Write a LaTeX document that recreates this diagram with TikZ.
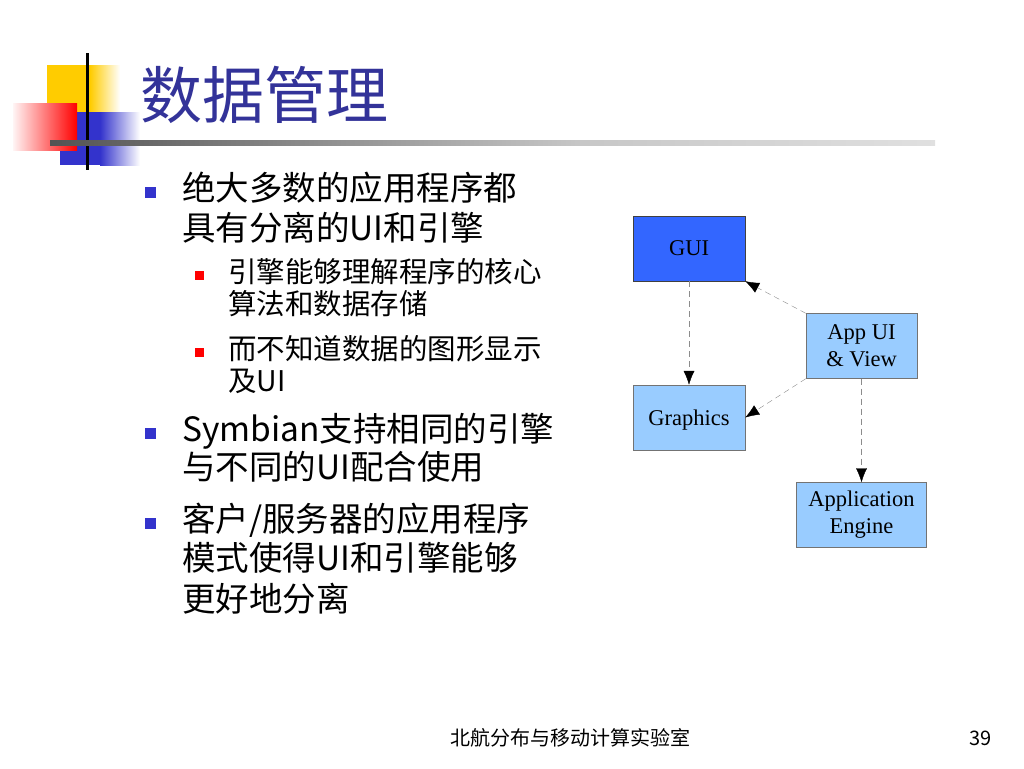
\documentclass[tikz,border=0pt]{standalone}
\usepackage{fontspec}
\setmainfont{Noto Sans CJK SC}
\newfontfamily\boxfont{Liberation Serif}
\usetikzlibrary{arrows.meta, positioning}

\definecolor{titleblue}{HTML}{333399}
\definecolor{bulletblue}{HTML}{3333CC}
\definecolor{guiblue}{HTML}{3366FF}
\definecolor{paleblue}{HTML}{99CCFF}
\definecolor{logoyellow}{HTML}{FFCC00}
\pgfdeclarehorizontalshading{ruleshade}{100bp}{color(0bp)=(black); color(20bp)=(black!75); color(55bp)=(black!22); color(100bp)=(white)}

\begin{document}
\begin{tikzpicture}[
    x=1pt, y=-1pt,
    node distance=169pt,
    on grid,
    title/.style={anchor=base west, inner sep=0, text=titleblue, font=\fontsize{62}{62}\selectfont},
    mainline/.style={anchor=base west, inner sep=0, font=\fontsize{33.5}{40}\selectfont},
    subline/.style={anchor=base west, inner sep=0, font=\fontsize{28.5}{32}\selectfont},
    mainbullet/.style={fill=bulletblue, minimum size=11pt, inner sep=0},
    subbullet/.style={fill=red, minimum size=9pt, inner sep=0},
    footer/.style={anchor=base west, inner sep=0, font=\fontsize{20}{20}\selectfont},
    block/.style={draw=black!55, fill=paleblue, minimum width=112pt, minimum height=65pt,
                  inner sep=2pt, align=center, font=\boxfont\fontsize{22.5}{27}\selectfont},
    dep/.style={draw=black!45, dash pattern=on 6pt off 4pt, -{Latex[color=black, length=14pt, width=11pt]}},
]

    \useasboundingbox[fill=white] (0,0) rectangle (1024,768);

    % logo
    \fill[logoyellow] (47,65) rectangle (90,112);
    \shade[left color=logoyellow, right color=white] (90,65) rectangle (120,112);
    \fill[bulletblue] (60,112) rectangle (100,165);
    \shade[left color=bulletblue, right color=white] (100,112) rectangle (140,165);
    \shade[left color=red!4, right color=red] (13,103) rectangle (77,150);
    \fill[black] (85.5,53) rectangle (89,170);
    \shade[shading=ruleshade] (50,140.5) rectangle (935,145.5);

    % title
    \node[title] (T) at (140,118) {数据管理};

    % bullets
    \node[mainbullet] (B1) at (150,192) {};
    \node[mainline]   (L1) at (182,200) {绝大多数的应用程序都};
    \node[mainline]   (L2) at (182,240) {具有分离的UI和引擎};

    \node[subbullet]  (S1) at (199.5,275) {};
    \node[subline]    (L3) at (228,282) {引擎能够理解程序的核心};
    \node[subline]    (L4) at (228,314) {算法和数据存储};

    \node[subbullet]  (S2) at (199.5,352) {};
    \node[subline]    (L5) at (228,359) {而不知道数据的图形显示};
    \node[subline]    (L6) at (228,391) {及UI};

    \node[mainbullet] (B2) at (150,433) {};
    \node[mainline]   (L7) at (182,441) {Symbian支持相同的引擎};
    \node[mainline]   (L8) at (182,479) {与不同的UI配合使用};

    \node[mainbullet] (B3) at (150,523) {};
    \node[mainline]   (L9) at (182,531) {客户/服务器的应用程序};
    \node[mainline]  (L10) at (182,570) {模式使得UI和引擎能够};
    \node[mainline]  (L11) at (182,611) {更好地分离};

    % diagram
    \node[block, fill=guiblue, draw=black!75]    (GUI) at (689,248.5) {GUI};
    \node[block, below=of GUI, text depth=0pt]   (GFX) {Graphics};
    \node[block, minimum width=111pt]            (APP) at (861.5,346) {App UI\\\& View};
    \node[block, minimum width=130pt, below=of APP] (ENG) {Application\\Engine};

    \path
        (GUI)                edge [dep] (GFX)
        (APP.north west)     edge [dep] (GUI.south east)
        (APP.south west)     edge [dep] (GFX.east)
        (APP)                edge [dep] (ENG)
    ;

    % footer
    \node[footer] (F) at (450,745) {北航分布与移动计算实验室};
    \node[footer, anchor=base east] (P) at (992,745) {39};
\end{tikzpicture}
\end{document}
